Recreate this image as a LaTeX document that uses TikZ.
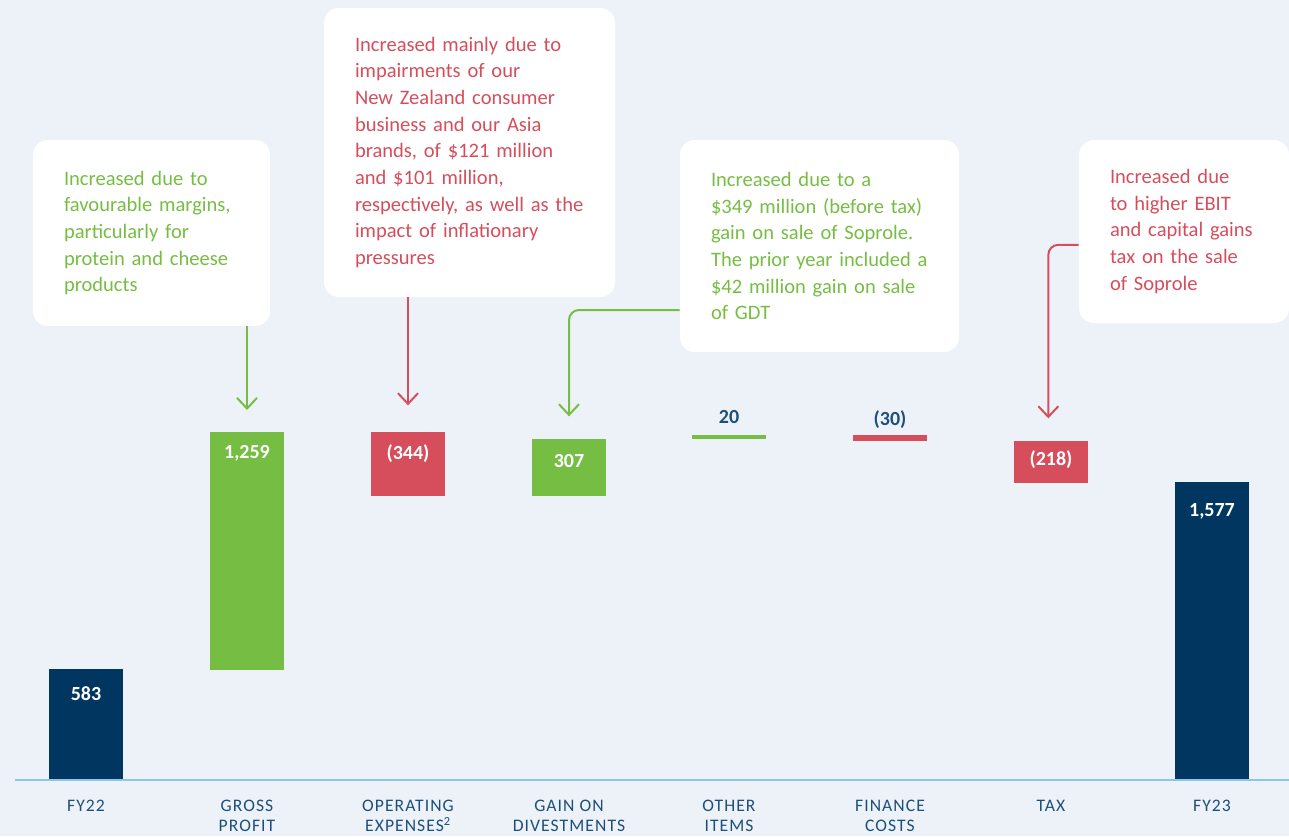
\documentclass[tikz,border=0pt]{standalone}
\usepackage{fontspec}
\setmainfont{Carlito}
\usepackage{xcolor}
\usepackage{tikz}
\usetikzlibrary{arrows.meta, positioning, calc}
\definecolor{fgreen}{HTML}{76BE43}
\definecolor{fred}{HTML}{D64E5C}
\definecolor{fnavy}{HTML}{003660}
\definecolor{fink}{HTML}{1D4F7A}
\definecolor{fback}{HTML}{EDF2F9}
\definecolor{faxis}{HTML}{8CC8E6}
\tikzstyle{note} = [rectangle, rounded corners=11.25pt, fill=white, inner xsep=23.25pt, inner ysep=0pt, align=left, font=\fontsize{15.4pt}{20pt}\selectfont]
\tikzstyle{bar} = [rectangle, anchor=north, minimum width=55.5pt, inner sep=0pt]
\tikzstyle{valin} = [inner sep=0pt, text=white, font=\fontsize{15pt}{18pt}\selectfont\bfseries]
\tikzstyle{valout} = [inner sep=0pt, text=fink, font=\fontsize{15pt}{18pt}\selectfont\bfseries]
\tikzstyle{cat} = [inner sep=0pt, anchor=north, align=center, text=fink, font=\fontsize{13.2pt}{15pt}\selectfont\addfontfeatures{LetterSpace=6}]
\tikzstyle{arrow} = [line width=1.5pt, -{Straight Barb[length=8pt, width=15pt]}]

\begin{document}
\begin{tikzpicture}[x=0.75pt, y=-0.75pt]
  \fill[fback] (0,0) rectangle (1289,836);
  \useasboundingbox (0,0) rectangle (1289,836);

  % bars
  \node (fy22) [bar, fill=fnavy, minimum height=83.25pt] at (86,669) {};
  \node (gp) [bar, fill=fgreen, minimum height=178.5pt] at (247,432) {};
  \node (opex) [bar, fill=fred, minimum height=48pt] at (408,432) {};
  \node (gain) [bar, fill=fgreen, minimum height=42.75pt] at (569,439) {};
  \node (oth) [bar, fill=fgreen, minimum height=3pt] at (729,435) {};
  \node (fin) [bar, fill=fred, minimum height=4.5pt] at (890,435) {};
  \node (tax) [bar, fill=fred, minimum height=31.5pt] at (1051,441) {};
  \node (fy23) [bar, fill=fnavy, minimum height=223.5pt] at (1212,482) {};

  % values
  \node (vfy22) [valin, below=12.75pt of fy22.north] {583};
  \node (vgp) [valin, below=10pt of gp.north] {1,259};
  \node (vopex) [valin, below=9pt of opex.north] {(344)};
  \node (vgain) [valin, below=11pt of gain.north] {307};
  \node (voth) [valout, above=8pt of oth.north] {20};
  \node (vfin) [valout, above=4.5pt of fin.north] {(30)};
  \node (vtax) [valin, below=6.75pt of tax.north] {(218)};
  \node (vfy23) [valin, below=16pt of fy23.north] {1,577};

  % axis
  \coordinate (axl) at (15,780);
  \coordinate (axr) at (1289,780);
  \draw[faxis, line width=1.5pt] (axl) -- (axr);

  % categories
  \node (cfy22) [cat] at (86,800) {FY22};
  \node (cgp) [cat] at (247,800) {GROSS\\PROFIT};
  \node (copex) [cat] at (408,800) {OPERATING\\EXPENSES\textsuperscript{2}};
  \node (cgain) [cat] at (569,800) {GAIN ON\\DIVESTMENTS};
  \node (coth) [cat] at (729,800) {OTHER\\ITEMS};
  \node (cfin) [cat] at (890,800) {FINANCE\\COSTS};
  \node (ctax) [cat] at (1051,800) {TAX};
  \node (cfy23) [cat] at (1212,800) {FY23};

  % notes
  \node (n1) [note, text=fgreen, text width=131.25pt, minimum height=139.5pt] at (151.5,233)
    {Increased due to\\favourable margins,\\particularly for\\protein and cheese\\products};
  \node (n2) [note, text=fred, text width=171.75pt, minimum height=216.75pt] at (469.5,152.5)
    {Increased mainly due to\\impairments of our\\New Zealand consumer\\business and our Asia\\brands, of \$121 million\\and \$101 million,\\respectively, as well as the\\impact of inflationary\\pressures};
  \node (n3) [note, text=fgreen, text width=162.75pt, minimum height=159pt] at (819.5,246)
    {Increased due to a\\\$349 million (before tax)\\gain on sale of Soprole.\\The prior year included a\\\$42 million gain on sale\\of GDT};
  \node (n4) [note, text=fred, text width=111pt, minimum height=137.25pt] at (1184,231.5)
    {Increased due\\to higher EBIT\\and capital gains\\tax on the sale\\of Soprole};

  % arrows
  \draw[arrow, fgreen, shorten >=16.5pt] (n1.south -| gp.north) -- (gp.north);
  \draw[arrow, fred, shorten >=20pt] (n2.south -| opex.north) -- (opex.north);
  \draw[arrow, fgreen, rounded corners=7.5pt, shorten >=17pt] ([yshift=-48pt]n3.west) -| (gain.north);
  \draw[arrow, fred, rounded corners=7.5pt, shorten >=17pt] ([yshift=-10pt]n4.west) -| ([xshift=-2pt]tax.north);
\end{tikzpicture}
\end{document}
